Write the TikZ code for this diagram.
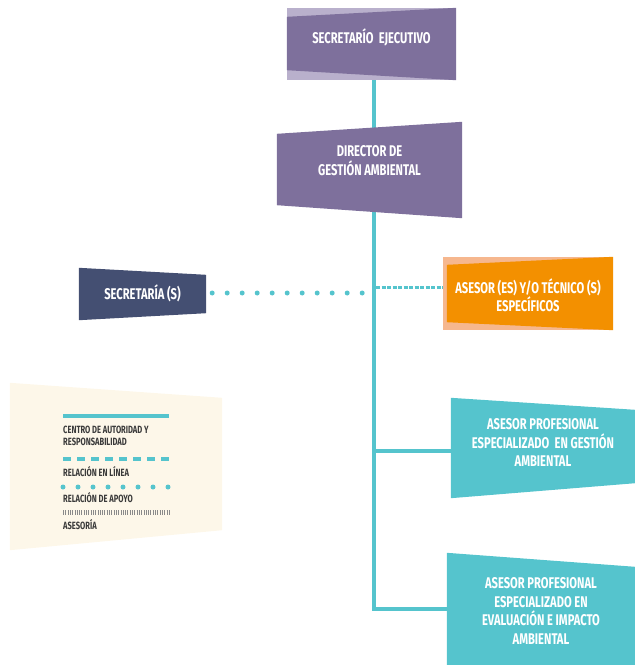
\documentclass[tikz,border=0pt]{standalone}
\usepackage{fontspec}
\setsansfont{Fira Sans}[FakeStretch=0.72]
\usetikzlibrary{calc,positioning,backgrounds}
\definecolor{orgPurple}{HTML}{7E709C}
\definecolor{orgLavender}{HTML}{B9B0CC}
\definecolor{orgNavy}{HTML}{444F72}
\definecolor{orgOrange}{HTML}{F39000}
\definecolor{orgSalmon}{HTML}{F6B78E}
\definecolor{orgTeal}{HTML}{55C4CD}
\definecolor{orgCream}{HTML}{FDF7E9}
\definecolor{orgInk}{HTML}{3A3A3A}
\definecolor{orgTick}{HTML}{8A8A8A}

\tikzset{
  unit/.style={minimum width=#1, inner sep=0pt, align=center, text=white,
    font=\sffamily\bfseries\fontsize{15.5}{18.5}\selectfont},
  lift/.style={text depth=#1},
  legend text/.style={anchor=west, inner sep=0pt, align=left, text=orgInk,
    font=\sffamily\bfseries\fontsize{10.5}{12.5}\selectfont},
  authority/.style={draw=orgTeal, line width=3.5pt},
  line rel/.style={draw=orgTeal, line width=3pt, dash pattern=on 4pt off 1.5pt},
  legend line rel/.style={draw=orgTeal, line width=3.5pt, dash pattern=on 8pt off 6pt},
  support/.style={draw=orgTeal, line width=5pt, line cap=round, dash pattern=on 0pt off 15pt},
  advice/.style={draw=orgTick, line width=5pt, dash pattern=on 0.7pt off 1.6pt}
}

\begin{document}
\begin{tikzpicture}[x=1pt, y=-1pt]
  \useasboundingbox (0,0) rectangle (635,665);

  \node [unit=169pt, minimum height=72pt, lift=15pt] (sec) at (371.5,44) {SECRETARÍO\ \ EJECUTIVO};
  \node [unit=185pt, minimum height=96pt, lift=19pt] (dir) at (369.5,170) {DIRECTOR DE\\GESTIÓN AMBIENTAL};
  \node [unit=127pt, minimum height=52pt] (sria) at (142.5,293) {SECRETARÍA (S)};
  \node [unit=170pt, minimum height=73pt] (ase) at (528,295) {ASESOR (ES) Y/O TÉCNICO (S)\\ESPECÍFICOS};
  \node [unit=184pt, minimum height=100pt, lift=17pt] (ap1) at (543,451) {ASESOR PROFESIONAL\\ESPECIALIZADO\ \ EN GESTIÓN\\AMBIENTAL};
  \node [unit=184pt, minimum height=112pt] (ap2) at (541,611) {ASESOR PROFESIONAL\\ESPECIALIZADO EN\\EVALUACIÓN E IMPACTO\\AMBIENTAL};
  \node [minimum width=212pt, minimum height=167pt, inner sep=0pt] (leg) at (116,466.5) {};

  \coordinate (spine) at ($(sec.south)+(2.5,0)$);

  \begin{scope}[on background layer]
    \draw [authority] (spine) -- ($(spine |- ap2.west)+(0,-2)$) -- ($(ap2.west)+(0,-2)$);
    \draw [authority] (spine |- ap1.west) -- (ap1.west);
    \draw [support] ($(sria.east)+(6,0)$) -- ($(spine |- sria.east)+(-11,0)$);
    \draw [line rel] ($(spine |- ase.west)+(2,-8)$) -- ($(ase.west)+(0,-8)$);

    \fill [orgLavender] (sec.north west) rectangle (sec.south east);
    \fill [orgPurple] ($(sec.north west)+(0,9)$) -- (sec.north east) -- (sec.south east)
      -- ($(sec.south west)+(0,-10)$) -- cycle;
    \fill [orgPurple] ($(dir.north west)+(0,12)$) -- (dir.north east) -- (dir.south east)
      -- ($(dir.south west)+(0,-13)$) -- cycle;
    \fill [orgNavy] ($(sria.north west)+(0,1)$) -- ($(sria.north east)+(0,8)$)
      -- ($(sria.south east)+(0,-6)$) -- ($(sria.south west)+(0,1)$) -- cycle;
    \fill [orgSalmon] ($(ase.north west)+(0,-1.5)$) rectangle ($(ase.south east)+(0,-1.5)$);
    \fill [orgOrange] ($(ase.north west)+(4,6.5)$) -- ($(ase.north east)+(0,-1.5)$)
      -- ($(ase.south east)+(0,-1.5)$) -- ($(ase.south west)+(4,-9.5)$) -- cycle;
    \fill [orgTeal] ($(ap1.north west)+(0,-3)$) -- ($(ap1.north east)+(0,9)$)
      -- ($(ap1.south east)+(0,-18)$) -- ($(ap1.south west)+(0,-3)$) -- cycle;
    \fill [orgTeal] ($(ap2.north west)+(-2,-2)$) -- ($(ap2.north east)+(2,12)$)
      -- ($(ap2.south east)+(2,-2)$) -- ($(ap2.south west)+(-2,-2)$) -- cycle;
    \fill [orgCream] (leg.north west) -- ($(leg.north east)+(0,15)$) -- ($(leg.south east)+(0,-20)$)
      -- (leg.south west) -- cycle;
  \end{scope}

  \foreach \s/\y in {authority/416, legend line rel/459, support/487, advice/512}
    \draw [\s] (63,\y) -- (169,\y);

  \node [legend text] (leg-1) at (63,436) {CENTRO DE AUTORIDAD Y\\RESPONSABILIDAD};
  \node [legend text] (leg-2) at (63,472) {RELACIÓN EN LÍNEA};
  \node [legend text] (leg-3) at (63,498) {RELACIÓN DE APOYO};
  \node [legend text] (leg-4) at (63,525) {ASESORÍA};

\end{tikzpicture}
\end{document}
